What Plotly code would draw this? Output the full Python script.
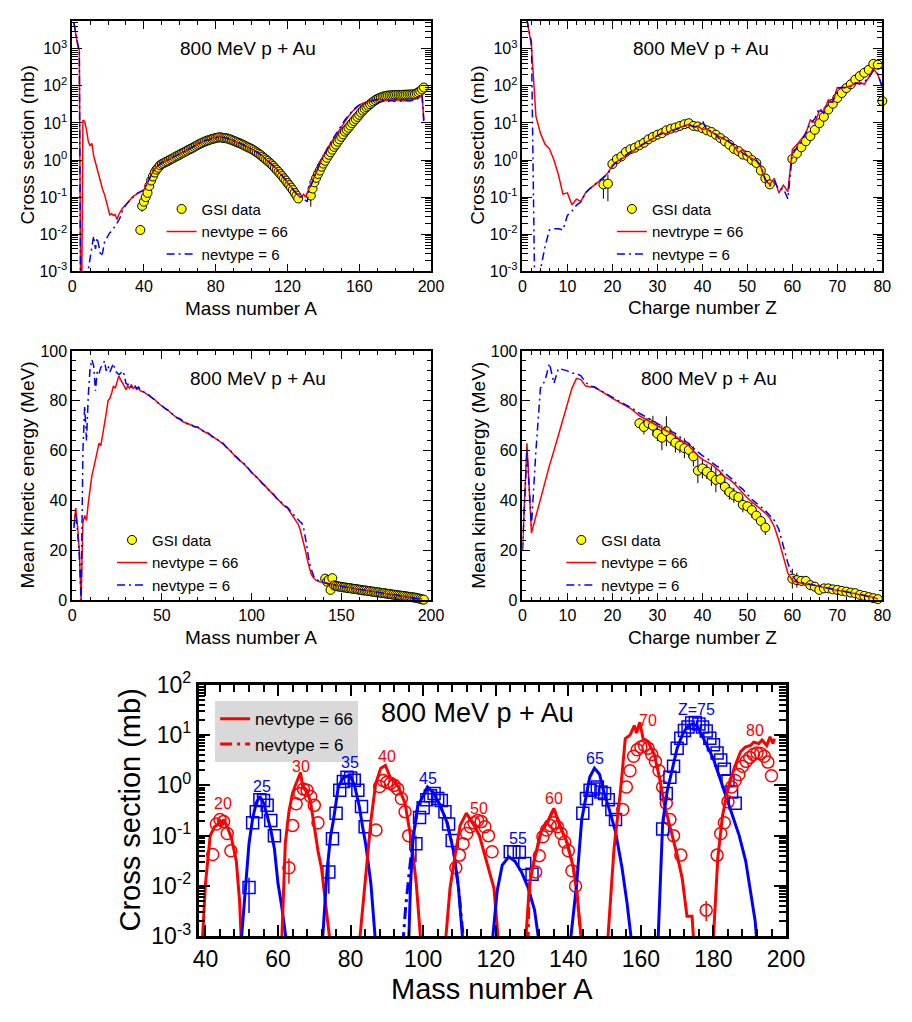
import math
import plotly.graph_objects as go

W, H = 912, 1022
FONT = "Liberation Sans, Arial, Helvetica, sans-serif"
RED = "#ff0000"
BLUE = "#0000ff"
YEL = "#ffff00"

# ---------------- Panel 1: cross section vs mass number A ----------------
csA_66 = [(1, 5000), (2, 2500), (3, 1300), (4, 900), (5, 1e-6), (6, 12), (7, 11), (8, 6.5), (9, 3.2), (10, 2.4),
          (11, 2.8), (12, 1.3), (13, 0.85), (14, 0.6), (15, 0.38), (16, 0.22), (17, 0.16), (18, 0.12), (19, 0.08),
          (20, 0.05), (21, 0.033), (22, 0.036), (23, 0.032), (24, 0.034), (25, 0.025), (26, 0.034), (27, 0.04),
          (28, 0.05), (30, 0.063), (32, 0.083), (34, 0.105), (36, 0.12), (38, 0.14), (40, 0.16), (42, 0.24),
          (44, 0.4), (46, 0.56), (48, 0.72), (50, 0.84), (52, 0.92), (54, 1.06), (56, 1.15), (58, 1.34), (60, 1.44),
          (62, 1.65), (64, 1.82), (66, 2.12), (68, 2.3), (70, 2.75), (72, 2.95), (74, 3.4), (76, 3.5), (78, 3.9),
          (80, 4.0), (82, 4.3), (84, 4.05), (86, 3.95), (88, 3.55), (90, 3.4), (92, 2.95), (94, 2.8), (96, 2.4),
          (98, 2.25), (100, 1.95), (102, 1.8), (104, 1.45), (106, 1.3), (108, 1.0), (110, 0.9), (112, 0.68),
          (114, 0.58), (116, 0.42), (118, 0.35), (120, 0.24), (122, 0.19), (124, 0.14), (126, 0.11), (127, 0.1),
          (128, 0.105), (129, 0.12), (130, 0.1), (131, 0.13), (132, 0.17), (134, 0.28), (136, 0.5), (138, 0.85),
          (140, 1.3), (142, 2.0), (144, 2.8), (146, 4.0), (148, 5.5), (150, 8.0), (152, 11), (154, 15), (156, 20),
          (158, 25), (160, 30), (162, 34), (164, 37), (166, 40), (168, 42), (170, 43), (172, 44), (174, 41),
          (176, 40), (178, 43), (180, 40), (182, 42), (184, 39), (186, 41), (188, 40), (190, 43), (192, 45),
          (194, 50), (195, 60), (196, 12)]
csA_6 = [(1, 5000), (2, 2500), (3, 1200), (4, 800), (5, 1e-6), (8, 1e-6), (9, 0.0011), (10, 0.0022), (11, 0.005),
         (12, 0.009), (13, 0.004), (14, 0.008), (15, 0.0045), (16, 0.0025), (17, 0.0032), (18, 0.006), (19, 0.0075),
         (20, 0.0095), (21, 0.011), (22, 0.012), (23, 0.014), (24, 0.016), (25, 0.02), (26, 0.024), (27, 0.03),
         (28, 0.042), (29, 0.05), (30, 0.062), (32, 0.08), (34, 0.1), (36, 0.125), (38, 0.14), (40, 0.15),
         (42, 0.25), (44, 0.38), (46, 0.58), (48, 0.7), (50, 0.86), (52, 0.95), (54, 1.02), (56, 1.2), (58, 1.3),
         (60, 1.5), (62, 1.6), (64, 1.9), (66, 2.05), (68, 2.4), (70, 2.65), (72, 3.1), (74, 3.3), (76, 3.6),
         (78, 3.7), (80, 4.1), (82, 4.2), (84, 4.1), (86, 3.9), (88, 3.7), (90, 3.3), (92, 3.05), (94, 2.7),
         (96, 2.5), (98, 2.15), (100, 2.0), (102, 1.7), (104, 1.55), (106, 1.22), (108, 1.08), (110, 0.84),
         (112, 0.72), (114, 0.53), (116, 0.45), (118, 0.32), (120, 0.26), (122, 0.18), (124, 0.145), (126, 0.105),
         (128, 0.1), (129, 0.09), (130, 0.08), (131, 0.075), (132, 0.15), (134, 0.26), (136, 0.45), (138, 0.8),
         (140, 1.2), (142, 1.9), (144, 2.9), (146, 4.2), (148, 6), (150, 8.5), (152, 12), (154, 16), (156, 21),
         (158, 26), (160, 30), (162, 33), (164, 36), (166, 38), (168, 40), (170, 42), (172, 41), (174, 40),
         (176, 38), (178, 40), (180, 38), (182, 40), (184, 38), (186, 40), (188, 39), (190, 41), (192, 44),
         (194, 48), (195, 55), (196, 10)]
gsiA_A = list(range(38, 127)) + list(range(133, 197))
gsiA_mb = [0.013, 0.058, 0.075, 0.1, 0.13, 0.2, 0.28, 0.36, 0.46, 0.55,
           0.62, 0.72, 0.78, 0.82, 0.88, 0.92, 0.98, 1.05, 1.1, 1.18,
           1.25, 1.32, 1.4, 1.5, 1.58, 1.68, 1.78, 1.9, 2.0, 2.1,
           2.25, 2.4, 2.55, 2.7, 2.85, 3.0, 3.15, 3.3, 3.42, 3.55,
           3.7, 3.8, 3.9, 4.0, 4.1, 4.05, 3.95, 3.9, 3.85, 3.75,
           3.6, 3.45, 3.3, 3.15, 3.0, 2.88, 2.75, 2.6, 2.45, 2.32,
           2.2, 2.1, 1.98, 1.85, 1.72, 1.6, 1.48, 1.36, 1.24, 1.13,
           1.03, 0.94, 0.85, 0.77, 0.69, 0.61, 0.54, 0.48, 0.42, 0.37,
           0.32, 0.28, 0.24, 0.21, 0.18, 0.155, 0.13, 0.11, 0.092,
           0.11, 0.17, 0.25, 0.33, 0.42, 0.52, 0.66, 0.8, 0.95, 1.15,
           1.38, 1.62, 1.9, 2.25, 2.6, 3.1, 3.6, 4.2, 4.9, 5.8,
           6.5, 7.4, 8.5, 9.8, 11.2, 12.7, 14.5, 16.5, 19, 21.5,
           24, 26.5, 29, 32, 35, 38, 41, 44, 46.5, 48.5,
           50.5, 52, 53.5, 54.5, 55, 55.5, 56, 56.5, 57, 57,
           56.5, 57, 57.5, 57.5, 58, 58, 58.5, 59, 60, 63,
           67, 72, 80, 90]
# error bars (A, low end, high end)
gsiA_err = [(39, 0.04, 0.075), (40, 0.045, 0.1), (41, 0.05, 0.13), (133, 0.055, 0.16)]

# ---------------- Panel 2: cross section vs charge number Z ----------------
csZ_Z = list(range(1, 81))
csZ_66 = [6000, 1200, 15, 5.3, 2.7, 2.0, 1.0, 0.4, 0.12, 0.13,
          0.062, 0.088, 0.077, 0.13, 0.17, 0.21, 0.26, 0.33, 0.45, 0.72,
          0.9, 1.05, 1.3, 1.6, 1.95, 2.3, 2.7, 3.3, 3.8, 4.4,
          5.6, 5.0, 6.2, 6.8, 7.5, 8.2, 9.2, 7.8, 8.3, 6.6,
          6.9, 5.6, 5.0, 4.1, 3.6, 3.1, 2.4, 1.6, 1.9, 1.25,
          1.1, 0.95, 0.65, 0.28, 0.22, 0.32, 0.13, 0.21, 0.14, 1.9,
          2.6, 3.6, 5.2, 12, 10, 21, 20, 42, 36, 90,
          88, 92, 100, 115, 125, 110, 170, 290, 200, 95]
csZ_6 = [6000, 1500, 1e-6, 0.0011, 0.0045, 0.013, 0.014, 0.014, 0.013, 0.032,
         0.042, 0.06, 0.075, 0.13, 0.17, 0.21, 0.27, 0.34, 0.43, 0.68,
         0.92, 1.1, 1.35, 1.65, 2.0, 2.4, 2.8, 3.2, 3.9, 4.6,
         5.1, 5.4, 5.9, 6.6, 7.6, 8.4, 9.0, 8.0, 7.6, 11.5,
         6.3, 6.0, 4.8, 3.4, 4.0, 3.0, 2.6, 2.0, 1.5, 1.3,
         1.0, 1.0, 0.7, 0.3, 0.2, 0.27, 0.16, 0.17, 0.09, 1.4,
         2.2, 3.2, 5.5, 9.5, 13, 25, 18, 35, 38, 85,
         92, 88, 95, 120, 110, 130, 160, 260, 210, 90]
gsiZ_Z = list(range(18, 56)) + list(range(60, 81))
gsiZ_mb = [0.22, 0.23, 0.78, 1.06, 1.25, 1.65, 1.95, 2.15, 2.5, 2.9,
           3.6, 4.2, 4.8, 5.3, 6.3, 7.0, 7.5, 8.3, 9.2, 9.8,
           8.3, 8.0, 7.2, 6.3, 5.7, 4.8, 3.9, 3.2, 2.6, 2.0,
           1.75, 1.4, 1.3, 1.0, 0.83, 0.52, 0.32, 0.22,
           1.07, 1.5, 2.2, 3.2, 4.4, 6.5, 9.8, 14.6, 23, 33,
           47, 64, 87, 110, 147, 183, 225, 270, 390, 370, 39]
gsiZ_err = [(18, 0.09, 0.36), (19, 0.077, 0.4)]

# ---------------- Panel 3: mean kinetic energy vs A ----------------
ekA_66 = [(1, 30), (2, 37), (3, 30), (4, 20), (5, 0), (6, 31), (7, 34), (8, 32), (9, 39), (10, 45), (11, 50),
          (12, 53), (13, 56), (14, 59), (15, 63), (16, 62), (17, 66), (18, 70), (19, 75), (20, 80), (21, 81),
          (22, 83), (23, 86), (24, 85), (25, 87.5), (26, 90), (27, 88.5), (28, 87.5), (29, 86), (30, 84.5),
          (31, 86), (32, 85), (33, 86.5), (34, 85), (35, 85.5), (36, 84.5), (37, 85), (38, 84), (40, 83.5),
          (42, 82.5), (44, 81.5), (46, 80.5), (48, 79), (50, 78), (52, 77), (54, 75.8), (56, 74.5), (58, 73.5),
          (60, 72.5), (62, 71.5), (64, 71), (66, 70.3), (68, 69.8), (70, 69.3), (72, 68.3), (74, 67.5), (76, 66.8),
          (78, 65.8), (80, 65), (82, 64), (84, 62.8), (86, 61.5), (88, 60.2), (90, 58.5), (92, 57), (94, 55.8),
          (96, 54.5), (98, 53), (100, 51.2), (102, 50), (104, 48.5), (106, 47), (108, 45.5), (110, 44),
          (112, 42.5), (114, 41), (116, 39.5), (118, 38), (120, 37), (122, 35), (124, 33), (126, 30.5),
          (127, 28.5), (128, 26), (129, 23), (130, 20), (131, 16.5), (132, 13.5), (133, 11), (134, 9.5),
          (135, 8.5), (136, 8), (138, 7.5), (140, 7.2), (145, 6.5), (150, 5.5), (155, 5), (160, 4.3), (165, 3.8),
          (170, 3.2), (175, 2.8), (180, 2.2), (185, 1.6), (190, 1.0), (195, 0.5)]
ekA_6 = [(1, 29), (2, 35), (3, 28), (4, 18), (5, 0), (6, 60), (7, 78), (8, 64), (9, 82), (10, 93), (11, 96.5),
         (12, 94), (13, 84), (14, 92), (15, 91), (16, 93.5), (17, 94), (18, 96), (19, 92), (20, 94), (21, 91.5),
         (22, 93), (23, 95), (24, 92), (25, 91), (26, 90.5), (27, 91), (28, 92), (29, 90.5), (30, 87), (31, 86.5),
         (32, 87), (33, 85.5), (34, 86.5), (35, 86), (36, 85), (37, 85.5), (38, 84.5), (40, 83.5), (42, 82.8),
         (44, 81.5), (46, 80.3), (48, 79.2), (50, 78.2), (52, 76.8), (54, 76), (56, 74.8), (58, 73.3), (60, 72.8),
         (62, 71.8), (64, 70.8), (66, 70.5), (68, 69.6), (70, 69.5), (72, 68.5), (74, 67.3), (76, 67), (78, 65.6),
         (80, 65.2), (82, 63.8), (84, 63), (86, 61.3), (88, 60.4), (90, 58.3), (92, 57.2), (94, 55.6), (96, 54.7),
         (98, 52.8), (100, 51.4), (102, 49.8), (104, 48.7), (106, 46.8), (108, 45.7), (110, 43.8), (112, 42.7),
         (114, 40.8), (116, 39.7), (118, 38.2), (120, 37.3), (122, 35.5), (124, 33.8), (126, 32), (127, 31.5),
         (128, 31), (129, 29), (130, 25), (131, 20), (132, 16), (133, 13), (134, 10.5), (135, 9), (136, 8.3),
         (138, 7.6), (140, 7.1), (145, 6.4), (150, 5.6), (155, 4.9), (160, 4.4), (165, 3.7), (170, 3.3),
         (175, 2.7), (180, 2.3), (185, 1.5), (190, 1.1), (195, 0.4)]
gsiEA_A = list(range(141, 197))
gsiEA_MeV = [8.7, 7.5, 8.2, 4.2, 8.9, 6.0, 5.8, 5.6, 5.5, 5.4,
             5.2, 5.2, 5.0, 4.9, 4.9, 4.7, 4.6, 4.6, 4.4, 4.3,
             4.2, 4.0, 4.0, 3.9, 3.7, 3.7, 3.5, 3.5, 3.3, 3.2,
             3.2, 3.0, 2.9, 2.9, 2.7, 2.6, 2.6, 2.4, 2.3, 2.2,
             2.1, 2.0, 1.9, 1.8, 1.8, 1.6, 1.5, 1.4, 1.3, 1.2,
             1.1, 1.0, 0.8, 0.6, 0.4, 0.3]
gsiEA_err = [(141, 7.0, 10.4), (145, 7.2, 10.6)]

# ---------------- Panel 4: mean kinetic energy vs Z ----------------
ekZ_Z = list(range(0, 80))
ekZ_66 = [20, 63, 27, 34, 41, 48, 54, 60, 66, 73,
          79, 85, 89, 88.5, 86, 85.5, 85.5, 84.5, 83.5, 82.2,
          81, 80, 79, 78.2, 77, 75.5, 74, 73, 72, 71,
          70.2, 69.2, 68.3, 67, 65.8, 64.5, 63, 62, 60, 58,
          56.5, 55.5, 54.5, 53, 51.5, 49.5, 48.5, 47, 45, 43,
          41, 39.5, 38, 36.5, 35, 33, 29.5, 24, 17, 11,
          8, 7.3, 7, 6.8, 6.3, 6, 5.5, 5, 4.7, 4.3,
          4, 3.6, 3.3, 3, 2.7, 2.3, 2, 1.6, 1.2, 0.6]
ekZ_6 = [20, 60, 30, 60, 85, 88, 95, 87, 93, 92.5,
         92, 91, 91, 90, 87.5, 86, 85.5, 84.5, 83.5, 82.5,
         81.2, 80.2, 79.3, 78.5, 77.5, 76.3, 75, 74, 72.8, 71.8,
         70.8, 69.8, 68.8, 67.8, 66.8, 65.5, 64.3, 62.8, 61, 59.5,
         58, 57, 55.5, 54, 53, 51, 49.5, 48, 46, 44.5,
         42.5, 40.5, 39, 37.5, 36, 34, 32, 28.5, 22, 15,
         10, 7.5, 7.2, 6.8, 6.4, 6, 5.6, 5.2, 4.8, 4.4,
         4.1, 3.7, 3.4, 3, 2.7, 2.4, 2, 1.6, 1.2, 0.6]
gsiEZ_Z = list(range(26, 55)) + list(range(60, 80))
gsiEZ_MeV = [71, 69.5, 71, 70, 66.8, 65.2, 67.8, 65, 63.2, 62,
             61, 60.3, 57.7, 52, 52.9, 51.6, 49.9, 48.3, 48.6, 45.5,
             43.4, 42.1, 41.4, 38.3, 37.7, 36.2, 34, 31.8, 29.2,
             8.7, 8.1, 7.8, 7.8, 6.1, 5.5, 4.2, 4.8, 4.8, 4.4,
             4.2, 3.8, 3.5, 3.1, 2.9, 2.2, 1.8, 1.3, 0.9, 0.5]
gsiEZ_dE = [2, 3, 2, 4, 3, 5, 6, 3, 4, 3,
            4, 3, 4, 5, 4, 3, 4, 5, 3, 3,
            3, 3, 2, 3, 2, 3, 2, 2, 3,
            4, 3, 2, 2, 2, 1, 1, 1, 1, 1,
            1, 1, 1, 1, 1, 1, 1, 1, 1, 1]

# ---------------- Panel 5: isotopic distributions ----------------
z20_calc = [(39.1, 0.0007), (40, 0.011), (41.3, 0.1), (42.5, 0.15), (43.5, 0.17), (44, 0.2), (44.5, 0.16),
            (45, 0.21), (46, 0.15), (47.2, 0.087), (48.5, 0.031), (49.4, 0.005), (49.9, 0.0007)]
z20_data = [(42, 0.042), (43, 0.17), (44, 0.21), (45, 0.19), (46, 0.11), (47, 0.05)]
z25_calc = [(49.8, 0.0007), (51, 0.008), (52, 0.07), (53, 0.22), (54, 0.45), (55, 0.6), (56, 0.45), (57, 0.25),
            (58, 0.13), (59, 0.055), (60, 0.011), (61, 0.004), (62.4, 0.0007)]
z25_data = [(52, 0.0093), (53, 0.18), (54, 0.3), (55, 0.52), (56, 0.5), (57, 0.4), (58, 0.2), (59, 0.1)]
z30_calc = [(61, 0.0007), (61.5, 0.01), (62, 0.07), (63, 0.3), (64, 0.7), (65, 1.1), (66.2, 1.8), (66.8, 0.95),
            (68, 0.8), (69, 0.45), (70, 0.15), (71, 0.05), (72, 0.022), (73, 0.005), (74.4, 0.0007)]
z30_data = [(63, 0.023), (64, 0.16), (65, 0.43), (66, 0.68), (67, 0.85), (68, 0.8), (69, 0.6), (70, 0.4),
            (71, 0.18)]
z35_calc = [(72.2, 0.0007), (73.5, 0.02), (74.5, 0.1), (75.3, 0.21), (76.6, 0.93), (78, 1.45), (79, 1.5),
            (79.8, 1.6), (81.1, 1.0), (82.4, 0.38), (83.3, 0.15), (84.2, 0.065), (85.6, 0.011), (86.9, 0.0007)]
z35_data = [(74, 0.019), (75, 0.087), (76, 0.28), (77, 0.8), (78, 1.2), (79, 1.45), (80, 1.4), (81, 1.27),
            (82, 0.8), (83, 0.38), (84, 0.15)]
z40_calc = [(82.4, 0.0007), (84.2, 0.02), (85.6, 0.2), (86.9, 1.07), (88.3, 2.2), (89.6, 2.5), (90.9, 1.45),
            (92, 1.2), (93.2, 0.93), (95, 0.44), (96.8, 0.074), (98.1, 0.011), (99.4, 0.0007)]
z40_data = [(87, 0.13), (88, 0.95), (89, 1.25), (90, 1.15), (91, 1.1), (92, 1.0), (93, 0.85), (94, 0.55),
            (95, 0.3), (96, 0.1)]
z45_calc = [(96, 0.0007), (96.5, 0.01), (97.2, 0.087), (98.5, 0.38), (100.3, 0.69), (101.2, 0.93), (103, 0.69),
            (104.8, 0.38), (106.6, 0.18), (108.4, 0.048), (109.7, 0.0095), (111, 0.0007)]
z45_calc6 = [(94.4, 0.0007), (95.2, 0.004), (96.2, 0.02), (97.2, 0.087), (98.5, 0.38), (100.3, 0.7),
             (101.2, 0.9), (103, 0.7), (104.8, 0.38), (106.6, 0.18), (108.4, 0.05), (109.7, 0.01), (111.2, 0.0007)]
z45_data = [(98, 0.069), (99, 0.23), (100, 0.36), (101, 0.52), (102, 0.62), (103, 0.69), (104, 0.55),
            (105, 0.5), (106, 0.3), (107, 0.17), (108, 0.08)]
z50_calc = [(106.1, 0.0007), (107.4, 0.009), (108.8, 0.041), (110.2, 0.16), (111.9, 0.28), (113.2, 0.2),
            (114.5, 0.14), (115.5, 0.1), (116.5, 0.055), (118.1, 0.019), (119.5, 0.009), (120.8, 0.0007)]
z50_data = [(109, 0.023), (110, 0.041), (111, 0.069), (112, 0.11), (113, 0.15), (114, 0.18), (115, 0.2),
            (116, 0.19), (117, 0.15), (118, 0.1), (119, 0.048)]
z55_calc = [(119, 0.0007), (120.4, 0.008), (121.8, 0.026), (123.6, 0.038), (125.3, 0.031), (127.1, 0.019),
            (128.9, 0.0093), (130.7, 0.0033), (132, 0.0007)]
z55_data = [(124, 0.048), (125, 0.048), (126.5, 0.047), (128, 0.028), (130, 0.017)]
z60_calc = [(128.2, 0.0007), (129.3, 0.011), (130.7, 0.035), (132.5, 0.12), (134.2, 0.18), (136, 0.35),
            (137.8, 0.15), (139.6, 0.074), (141.4, 0.023), (142.3, 0.008), (143.7, 0.0007)]
z60_calc6 = [(128.9, 0.0007), (129.1, 0.004), (129.5, 0.015), (130.7, 0.035), (132.5, 0.12), (134.2, 0.18),
             (136, 0.35), (137.8, 0.15), (139.6, 0.074), (141.4, 0.023), (142.3, 0.008), (143.7, 0.0007)]
z60_data = [(131, 0.019), (132, 0.04), (133, 0.095), (134, 0.13), (135, 0.16), (136, 0.18), (137, 0.15),
            (138, 0.11), (139, 0.075), (140, 0.05), (141, 0.02), (142, 0.01)]
z65_calc = [(140.5, 0.0007), (142.3, 0.011), (143.7, 0.21), (145, 0.7), (145.9, 1.45), (147.2, 2.2),
            (148.6, 1.67), (149.9, 0.69), (151.3, 0.33), (153, 0.12), (154.8, 0.023), (156.2, 0.0045),
            (157.5, 0.0007)]
z65_data = [(144, 0.28), (145, 0.55), (146, 0.8), (147, 0.85), (148, 0.93), (149, 0.74), (150, 0.69),
            (151, 0.52), (152, 0.33), (153, 0.21)]
z70_calc = [(150.8, 0.0007), (152.6, 0.055), (154.4, 0.8), (155.7, 8.5), (157, 10), (158.2, 15.5), (158.8, 11),
            (159.7, 18), (160.6, 8.5), (162, 7.4), (163.7, 4.1), (165.1, 1.45), (166.4, 0.44), (168.2, 0.135),
            (170, 0.041), (171.4, 0.014), (172.7, 0.0025), (174.1, 0.0025), (174.6, 0.0007)]
z70_data = [(155, 0.33), (156, 0.93), (157, 1.95), (158, 3.8), (159, 5.1), (160, 5.8), (161, 6.2), (162, 5.5),
            (163, 4.1), (164, 3.0), (165, 1.95), (166, 0.93), (167, 0.44), (168, 0.21), (169, 0.1), (171, 0.041),
            (178, 0.0033)]
z75_calc = [(164.7, 0.0007), (166, 0.18), (167.3, 0.8), (168.7, 2.2), (170, 5.5), (171.4, 10), (172.7, 14.5),
            (174.1, 16.6), (175.4, 15.5), (176.8, 10), (178.1, 6.4), (179.9, 3.5), (181.7, 1.45), (183.5, 0.59),
            (185.3, 0.25), (187.1, 0.1), (188.9, 0.031), (190.1, 0.0093), (191.5, 0.002), (192, 0.0007)]
z75_data = [(166, 0.135), (167, 0.69), (168, 1.45), (169, 2.4), (170, 5.5), (171, 8.6), (172, 12.3),
            (173, 14.5), (174, 17.3), (175, 17.8), (176, 16.6), (177, 14.5), (178, 12), (179, 8.6), (180, 6.4),
            (181, 4.4), (182, 3.2), (183, 2.1), (184, 1.24), (185, 0.74), (186, 0.44)]
z80_calc = [(179.9, 0.0007), (181.2, 0.036), (182.5, 0.25), (183.9, 0.8), (185.7, 2.2), (187.5, 4.7),
            (188.8, 5.8), (190.2, 6.2), (191.1, 7.2), (192.5, 6.8), (193.4, 8), (194.7, 6.2), (195.6, 9.2),
            (196.4, 6.8), (196.8, 8.5)]
z80_data = [(181, 0.041), (182, 0.11), (183, 0.18), (184, 0.47), (185, 0.93), (186, 1.25), (187, 1.65),
            (188, 2.4), (189, 3.0), (190, 3.6), (191, 4.1), (192, 4.4), (193, 4.3), (194, 3.8), (195, 2.9),
            (196, 1.55)]
iso_err = [(52, 0.0093, 0.0029, 0.0145, BLUE), (63, 0.023, 0.011, 0.035, RED), (74, 0.019, 0.007, 0.03, BLUE),
           (98, 0.069, 0.03, 0.1, BLUE), (178, 0.0033, 0.002, 0.005, RED)]
iso_labels = ["20", "25", "30", "35", "40", "45", "50", "55", "60", "65", "70", "Z=75", "80"]
iso_label_A = [44.9, 55.6, 66.4, 79.8, 90, 101.2, 115.5, 126.2, 136, 147.4, 162, 175.4, 191.5]
iso_label_mb = [0.44, 0.93, 2.4, 2.8, 3.8, 1.35, 0.35, 0.087, 0.55, 3.4, 19.5, 32, 12.3]

# ======================================================================
fig = go.Figure()


def xs(p):
    return [a[0] for a in p]


def ys(p):
    return [a[1] for a in p]


def line(x, y, ax, color, width, dash="solid", name=None, legend=None, rank=None):
    fig.add_trace(go.Scatter(x=x, y=y, mode="lines", line=dict(color=color, width=width, dash=dash),
                             xaxis="x" + ax, yaxis="y" + ax, name=name, legend=legend,
                             showlegend=name is not None, legendrank=rank, hoverinfo="skip"))


def gsi(x, y, ax, legend, err=None):
    fig.add_trace(go.Scatter(x=x, y=y, mode="markers", cliponaxis=False,
                             marker=dict(symbol="circle", size=9, color=YEL, line=dict(color="black", width=1)),
                             error_y=err, xaxis="x" + ax, yaxis="y" + ax, name="GSI data", legend=legend,
                             showlegend=True, legendrank=1, hoverinfo="skip"))


def errbars(pts, ax, color="black", thick=1):
    fig.add_trace(go.Scatter(x=[p[0] for p in pts], y=[p[1] for p in pts], mode="markers",
                             marker=dict(size=1, opacity=0), cliponaxis=False,
                             error_y=dict(type="data", symmetric=False,
                                          array=[p[3] - p[1] for p in pts],
                                          arrayminus=[p[1] - p[2] for p in pts],
                                          color=color, thickness=thick, width=0),
                             xaxis="x" + ax, yaxis="y" + ax, showlegend=False, hoverinfo="skip"))


BLUE_DASH = "8px,4px,2px,4px"

# Panel 1
gA = dict(zip(gsiA_A, gsiA_mb))
errbars([(a, gA[a], lo, hi) for a, lo, hi in gsiA_err], "")
gsi(gsiA_A, gsiA_mb, "", "legend")
line(xs(csA_66), ys(csA_66), "", RED, 1.5, name="nevtype = 66", legend="legend", rank=2)
line(xs(csA_6), ys(csA_6), "", BLUE, 1.5, BLUE_DASH, name="nevtype = 6", legend="legend", rank=3)

# Panel 2
gZ = dict(zip(gsiZ_Z, gsiZ_mb))
errbars([(z, gZ[z], lo, hi) for z, lo, hi in gsiZ_err], "2")
gsi(gsiZ_Z, gsiZ_mb, "2", "legend2")
line(csZ_Z, csZ_66, "2", RED, 1.5, name="nevtrype = 66", legend="legend2", rank=2)
line(csZ_Z, csZ_6, "2", BLUE, 1.5, BLUE_DASH, name="nevtype = 6", legend="legend2", rank=3)

# Panel 3
gEA = dict(zip(gsiEA_A, gsiEA_MeV))
errbars([(a, gEA[a], lo, hi) for a, lo, hi in gsiEA_err], "3")
gsi(gsiEA_A, gsiEA_MeV, "3", "legend3")
line(xs(ekA_66), ys(ekA_66), "3", RED, 1.5, name="nevtype = 66", legend="legend3", rank=2)
line(xs(ekA_6), ys(ekA_6), "3", BLUE, 1.5, BLUE_DASH, name="nevtype = 6", legend="legend3", rank=3)

# Panel 4
gsi(gsiEZ_Z, gsiEZ_MeV, "4", "legend4",
    err=dict(type="data", array=gsiEZ_dE, color="black", thickness=1, width=0))
line(ekZ_Z, ekZ_66, "4", RED, 1.5, name="nevtype = 66", legend="legend4", rank=2)
line(ekZ_Z, ekZ_6, "4", BLUE, 1.5, BLUE_DASH, name="nevtype = 6", legend="legend4", rank=3)

# Panel 5
RED_DASH = "12px,5px,3px,5px"
iso_sets = [(z20_calc, z20_data, RED), (z25_calc, z25_data, BLUE), (z30_calc, z30_data, RED),
            (z35_calc, z35_data, BLUE), (z40_calc, z40_data, RED), (z45_calc, z45_data, BLUE),
            (z50_calc, z50_data, RED), (z55_calc, z55_data, BLUE), (z60_calc, z60_data, RED),
            (z65_calc, z65_data, BLUE), (z70_calc, z70_data, RED), (z75_calc, z75_data, BLUE),
            (z80_calc, z80_data, RED)]
for calc, data, col in iso_sets:
    fig.add_trace(go.Scatter(x=xs(data), y=ys(data), mode="markers",
                             marker=dict(symbol="circle-open" if col == RED else "square-open", size=12,
                                         color=col, line=dict(color=col, width=1.5)),
                             xaxis="x5", yaxis="y5", showlegend=False, hoverinfo="skip"))
for a, v, lo, hi, col in iso_err:
    errbars([(a, v, lo, hi)], "5", color=col, thick=1.5)
line(xs(z45_calc6), ys(z45_calc6), "5", BLUE, 3, RED_DASH)
first = True
for calc, data, col in iso_sets:
    if first:
        line(xs(calc), ys(calc), "5", col, 3, name="nevtype = 66", legend="legend5", rank=1)
        first = False
    else:
        line(xs(calc), ys(calc), "5", col, 3)
line(xs(z60_calc6), ys(z60_calc6), "5", RED, 3, RED_DASH, name="nevtype = 6", legend="legend5", rank=2)


# ======================================================================
def dom_x(l, r):
    return [l / W, r / W]


def dom_y(t, b):
    return [1 - b / H, 1 - t / H]


P1 = (68, 4, 437, 262)
P2 = (531, 4, 901, 262)
P3 = (68, 344, 437, 601)
P4 = (531, 344, 901, 601)
P5 = (198, 688, 802, 947)


def base_axis(fs, lw, tl, tw=1):
    return dict(showline=True, linecolor="black", linewidth=lw, mirror="allticks", ticks="inside",
                ticklen=tl, tickwidth=tw, tickcolor="black", showgrid=False, zeroline=False,
                tickfont=dict(family=FONT, size=fs, color="black"))


def lin_axis(rng, dtick, mdtick, fs=16, lw=1.5, tl=8, mtl=4, tw=1, tick0=0):
    d = base_axis(fs, lw, tl, tw)
    d.update(range=rng, dtick=dtick, tick0=tick0, tickmode="linear",
             minor=dict(dtick=mdtick, tick0=tick0, ticks="inside", ticklen=mtl, tickwidth=tw, tickcolor="black",
                        showgrid=False))
    return d


def log_axis(lo, hi, top, fs=16, lw=1.5, tl=10, mtl=6, tw=1):
    d = base_axis(fs, lw, tl, tw)
    tv = [10.0 ** k for k in range(lo, hi + 1)]
    tt = ["10<sup>%d</sup>" % k for k in range(lo, hi + 1)]
    mv = [m * 10.0 ** k for k in range(lo, hi + 1) for m in range(2, 10)]
    d.update(type="log", range=[lo, top], tickmode="array", tickvals=tv, ticktext=tt,
             minor=dict(tickmode="array", tickvals=mv, ticks="inside", ticklen=mtl, tickwidth=tw,
                        tickcolor="black", showgrid=False))
    return d


layout = dict(width=W, height=H, margin=dict(l=0, r=0, t=0, b=0), plot_bgcolor="white", paper_bgcolor="white",
              font=dict(family=FONT, color="black"))

layout["xaxis"] = dict(lin_axis([0, 200], 40, 10), domain=dom_x(P1[0], P1[2]), anchor="y")
layout["yaxis"] = dict(log_axis(-3, 3, 3.75), domain=dom_y(P1[1], P1[3]), anchor="x")
layout["xaxis2"] = dict(lin_axis([0, 80], 10, 2), domain=dom_x(P2[0], P2[2]), anchor="y2")
layout["yaxis2"] = dict(log_axis(-3, 3, 3.75), domain=dom_y(P2[1], P2[3]), anchor="x2")
layout["xaxis3"] = dict(lin_axis([0, 200], 50, 10), domain=dom_x(P3[0], P3[2]), anchor="y3")
layout["yaxis3"] = dict(lin_axis([0, 100], 20, 4), domain=dom_y(P3[1], P3[3]), anchor="x3")
layout["xaxis4"] = dict(lin_axis([0, 80], 10, 2), domain=dom_x(P4[0], P4[2]), anchor="y4")
layout["yaxis4"] = dict(lin_axis([0, 100], 20, 4), domain=dom_y(P4[1], P4[3]), anchor="x4")
layout["xaxis5"] = dict(lin_axis([38.1, 200], 20, 4, fs=23, lw=2.5, tl=11, mtl=7, tw=1.5),
                        domain=dom_x(P5[0], P5[2]), anchor="y5")
layout["yaxis5"] = dict(log_axis(-3, 2, 2, fs=23, lw=2.5, tl=12, mtl=7, tw=1.5),
                        domain=dom_y(P5[1], P5[3]), anchor="x5")

leg = dict(bgcolor="rgba(0,0,0,0)", borderwidth=0, font=dict(family=FONT, size=15, color="black"),
           xanchor="left", yanchor="top", tracegroupgap=0, itemwidth=30, traceorder="normal")
layout["legend"] = dict(leg, x=160 / W, y=1 - 181 / H)
layout["legend2"] = dict(leg, x=623 / W, y=1 - 181 / H)
layout["legend3"] = dict(leg, x=109 / W, y=1 - 522 / H)
layout["legend4"] = dict(leg, x=571 / W, y=1 - 522 / H)
layout["legend5"] = dict(leg, x=215 / W, y=1 - 705 / H, bgcolor="#d9d9d9",
                         font=dict(family=FONT, size=17, color="black"))

ann = []


def txt(x, y, s, size, angle=0, color="black"):
    ann.append(dict(x=x / W, y=1 - y / H, xref="paper", yref="paper", text=s, showarrow=False,
                    font=dict(family=FONT, size=size, color=color), textangle=angle,
                    xanchor="center", yanchor="middle"))


for cx, cy in [(249, 32), (715, 32), (259, 372), (723, 372)]:
    txt(cx, cy, "800 MeV p + Au", 19)
txt(485, 717, "800 MeV p + Au", 27)
txt(252, 300, "Mass number A", 19)
txt(716, 299, "Charge number Z", 19)
txt(252, 639, "Mass number A", 19)
txt(716, 639, "Charge number Z", 19)
txt(500, 1001, "Mass number A", 29)
txt(22, 132, "Cross section (mb)", 19, -90)
txt(484, 132, "Cross section (mb)", 19, -90)
txt(22, 472, "Mean kinetic energy (MeV)", 19, -90)
txt(485, 472, "Mean kinetic energy (MeV)", 19, -90)
txt(127, 817, "Cross section (mb)", 29, -90)

for i, (lab, a, v) in enumerate(zip(iso_labels, iso_label_A, iso_label_mb)):
    ann.append(dict(x=a, y=math.log10(v), xref="x5", yref="y5", text=lab, showarrow=False,
                    font=dict(family=FONT, size=16, color=RED if i % 2 == 0 else BLUE),
                    xanchor="center", yanchor="middle"))

layout["annotations"] = ann
fig.update_layout(layout)
fig.write_html("out.html")
